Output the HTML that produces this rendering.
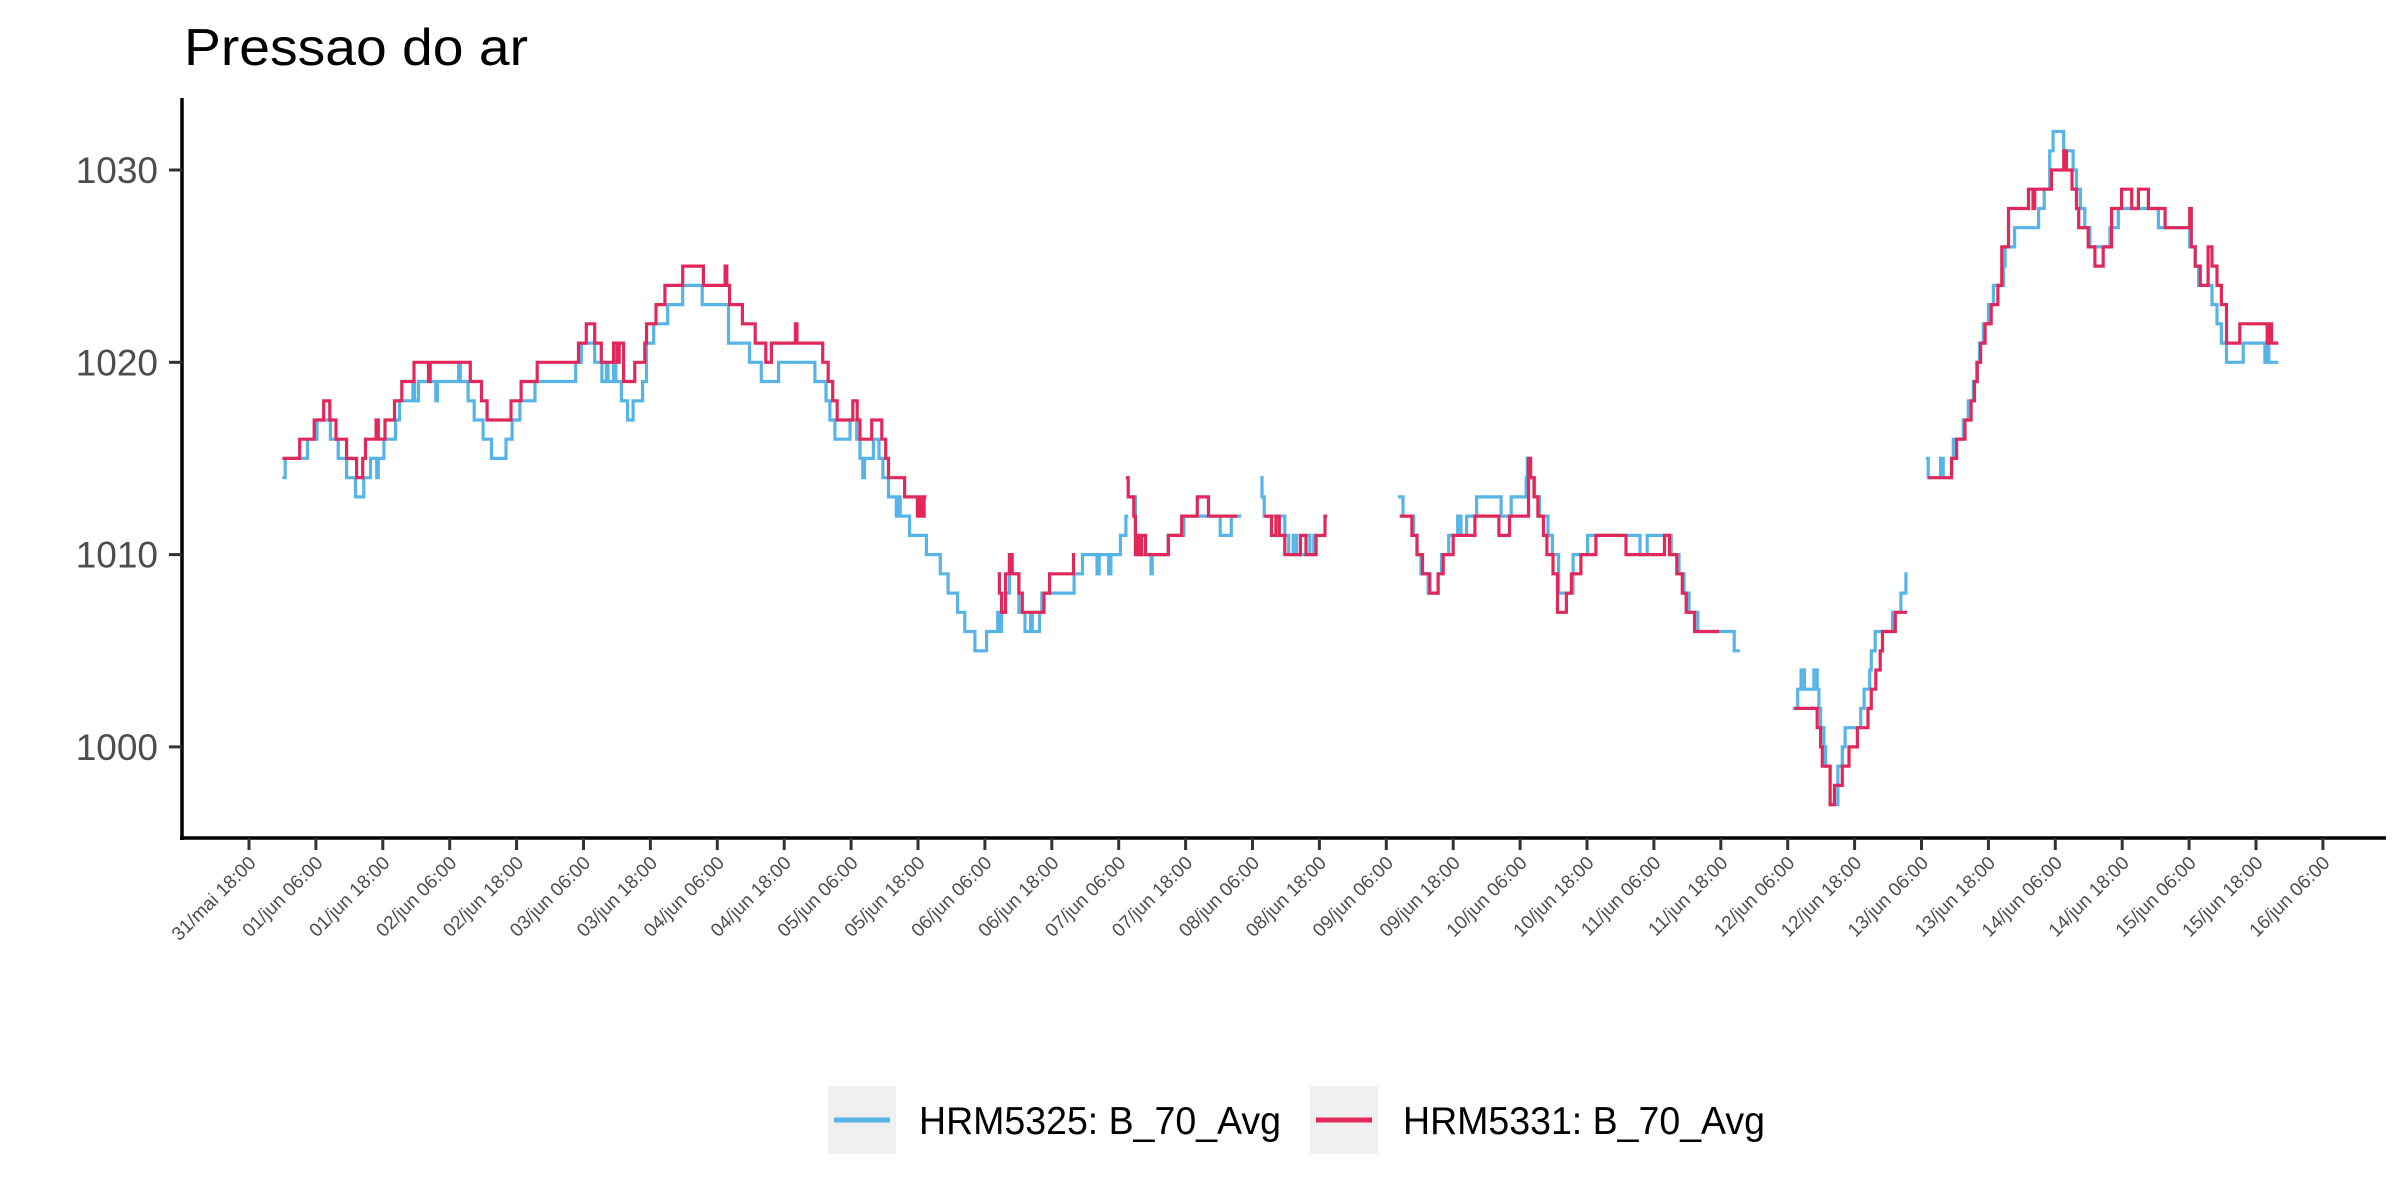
<!DOCTYPE html>
<html><head><meta charset="utf-8">
<style>
html,body{margin:0;padding:0;background:#fff;}
svg{display:block;font-family:"Liberation Sans",Arial,sans-serif;}
</style></head>
<body>
<svg id="chart" width="2400" height="1200" viewBox="0 0 2400 1200" xmlns="http://www.w3.org/2000/svg">
  <rect x="0" y="0" width="2400" height="1200" fill="#fff"/>
  <text x="184" y="65" font-size="52" fill="#000" textLength="344" lengthAdjust="spacingAndGlyphs">Pressao do ar</text>
  <g id="plot"></g>
  <g id="yaxis"></g>
  <g id="xaxis"></g>
  <g id="legend">
    <g>
      <rect x="828" y="1086" width="68" height="68" fill="#f0f0f0"/>
      <line x1="834" y1="1120" x2="890" y2="1120" stroke="#56B4E9" stroke-width="5"/>
      <text x="919" y="1134" font-size="39" fill="#000" textLength="362" lengthAdjust="spacingAndGlyphs">HRM5325: B_70_Avg</text>
    </g>
    <g>
      <rect x="1310" y="1086" width="68" height="68" fill="#f0f0f0"/>
      <line x1="1316" y1="1120" x2="1372" y2="1120" stroke="#E2285A" stroke-width="5"/>
      <text x="1403" y="1134" font-size="39" fill="#000" textLength="362" lengthAdjust="spacingAndGlyphs">HRM5331: B_70_Avg</text>
    </g>
  </g>
</svg>
<script>
// times in hours since 31/mai 18:00 ; values in hPa ; null = gap
var xTickLabels = ["31/mai 18:00","01/jun 06:00","01/jun 18:00","02/jun 06:00","02/jun 18:00","03/jun 06:00","03/jun 18:00","04/jun 06:00","04/jun 18:00","05/jun 06:00","05/jun 18:00","06/jun 06:00","06/jun 18:00","07/jun 06:00","07/jun 18:00","08/jun 06:00","08/jun 18:00","09/jun 06:00","09/jun 18:00","10/jun 06:00","10/jun 18:00","11/jun 06:00","11/jun 18:00","12/jun 06:00","12/jun 18:00","13/jun 06:00","13/jun 18:00","14/jun 06:00","14/jun 18:00","15/jun 06:00","15/jun 18:00","16/jun 06:00"];
var yTicks = [1000, 1010, 1020, 1030];

var blueT = [6.0,6.5,10.5,12.2,14.6,16.0,17.5,19.1,20.6,21.8,22.9,23.2,24.2,26.3,27.0,29.4,29.7,30.4,33.5,33.8,37.6,37.9,39.3,40.4,42.0,43.5,46.1,47.2,48.6,51.3,58.6,59.6,62.0,63.3,64.1,64.4,65.4,65.8,66.8,67.9,68.9,70.6,71.3,72.6,75.1,77.8,81.3,86.0,89.8,91.9,95.0,101.5,103.5,104.2,105.1,107.8,109.0,109.6,110.1,110.4,112.0,113.0,113.7,114.7,116.1,116.4,116.8,118.5,121.5,124.0,125.4,127.1,128.4,130.2,132.3,134.3,134.6,135.0,135.7,136.4,138.1,139.2,140.2,140.5,141.8,142.2,148.0,149.5,152.1,152.5,154.2,154.6,156.3,157.3,157.7,158.3,159.0,159.3,161.8,162.0,164.9,167.7,174.2,176.2,178.0,181.4,181.7,182.1,185.8,186.5,187.3,187.9,189.6,190.3,191.0,191.5,206.1,207.0,208.9,209.5,210.2,211.5,213.3,213.9,215.2,216.8,217.4,218.4,220.2,224.6,226.4,229.1,229.3,229.7,230.6,231.5,233.0,233.8,234.9,237.5,240.1,249.5,250.8,255.1,256.5,257.4,258.3,259.9,266.4,267.4,276.9,277.8,278.4,279.0,280.7,281.3,281.6,281.9,282.5,282.8,283.6,285.0,285.8,286.3,289.1,289.7,290.7,291.0,291.7,294.8,296.3,297.2,297.5,300.8,301.2,303.4,303.9,305.4,305.7,307.5,308.4,309.3,309.9,310.4,311.1,312.0,312.9,314.7,315.0,316.7,321.0,322.0,323.0,323.6,325.5,327.2,327.8,328.5,329.3,330.2,333.8,335.3,342.5,348.1,349.1,349.7,352.1,353.0,353.8,354.7,357.7,361.6,361.9,362.3,364.0];
var blueV = [1014,1015,1016,1017,1016,1015,1014,1013,1014,1015,1014,1015,1016,1017,1018,1019,1018,1019,1018,1019,1020,1019,1018,1017,1016,1015,1016,1017,1018,1019,1020,1021,1020,1019,1020,1019,1020,1019,1018,1017,1018,1019,1021,1022,1023,1024,1023,1021,1020,1019,1020,1019,1018,1017,1016,1017,1016,1015,1014,1015,1016,1015,1014,1013,1012,1013,1012,1011,1010,1009,1008,1007,1006,1005,1006,1007,1006,1007,1008,1009,1007,1006,1007,1006,1007,1008,1009,1010,1009,1010,1009,1010,1011,1012,null,1013,1011,1010,1009,1010,1011,1012,1011,1012,null,1014,1013,1012,1011,1010,1011,1010,1011,1010,1011,null,1013,1012,1011,1010,1009,1008,1009,1010,1011,1012,1011,1012,1013,1012,1013,1014,1015,1014,1013,1012,1011,1010,1008,1010,1011,1010,1011,1010,1009,1008,1007,1006,1005,null,1002,1003,1004,1003,1004,1003,1002,1001,1000,999,997,999,1000,1001,1002,1003,1004,1005,1006,1007,1008,1009,null,1015,1014,1015,1014,1015,1016,1017,1018,1019,1020,1021,1022,1023,1024,1025,1026,1027,1028,1029,1031,1032,1031,1030,1029,1028,1027,1026,1027,1028,1027,1026,1025,1024,1023,1022,1021,1020,1021,1020,1021,1020,null];

var redT = [6.0,9.1,11.7,13.4,14.5,15.6,17.5,19.3,20.4,20.9,22.8,23.2,24.4,26.1,27.4,29.6,32.2,32.5,39.7,41.7,42.7,47.0,48.8,51.7,59.1,60.5,62.0,63.2,65.4,66.0,66.4,67.2,69.2,71.0,71.3,73.0,74.6,77.8,81.5,85.4,85.7,86.2,88.5,90.8,92.7,93.7,98.0,98.3,102.9,103.9,104.7,105.5,108.3,109.1,109.6,111.7,113.5,114.2,114.7,117.6,119.9,120.2,120.7,121.1,121.5,134.3,134.6,135.0,135.7,136.4,136.9,138.1,138.7,142.6,143.6,147.9,148.2,157.3,157.7,158.7,159.0,159.3,159.8,160.1,160.8,164.9,167.3,170.1,172.1,177.3,182.1,183.4,184.2,184.8,185.8,188.6,189.6,191.4,193.0,193.4,206.4,208.6,209.5,210.5,211.8,213.3,214.2,216.0,219.9,224.2,226.1,229.5,229.9,230.5,231.2,232.2,232.8,233.9,234.7,236.3,237.2,238.9,241.6,247.0,253.9,254.8,256.1,257.1,257.8,259.3,263.7,277.2,281.3,281.9,282.2,283.6,284.4,285.8,287.0,288.5,290.4,291.0,291.8,292.6,293.0,295.3,297.4,301.2,305.4,306.3,307.8,308.9,309.5,310.0,310.6,311.4,312.5,313.7,314.4,315.6,319.2,320.0,320.3,323.3,325.5,326.0,327.0,327.8,328.2,329.9,331.1,332.6,334.1,335.9,337.7,338.9,340.7,343.7,348.1,348.4,349.1,350.0,351.4,352.1,353.0,353.8,354.7,357.1,362.0,362.3,362.8,364.0];
var redV = [1015,1016,1017,1018,1017,1016,1015,1014,1015,1016,1017,1016,1017,1018,1019,1020,1019,1020,1019,1018,1017,1018,1019,1020,1021,1022,1021,1020,1021,1020,1021,1019,1020,1021,1022,1023,1024,1025,1024,1025,1024,1023,1022,1021,1020,1021,1022,1021,1020,1019,1018,1017,1018,1017,1016,1017,1016,1015,1014,1013,1012,1013,1012,1013,null,1009,1008,1007,1009,1010,1009,1008,1007,1008,1009,1010,null,1014,1013,1012,1010,1011,1010,1011,1010,1011,1012,1013,1012,null,1012,1011,1012,1011,1010,1011,1010,1011,1012,null,1012,1011,1010,1009,1008,1009,1010,1011,1012,1011,1012,1015,1014,1013,1012,1011,1010,1009,1007,1008,1009,1010,1011,1010,1011,1010,1009,1008,1007,1006,null,1002,1001,1000,999,997,998,999,1000,1001,1002,1003,1004,1005,1006,1007,null,1014,1015,1016,1017,1018,1019,1020,1021,1022,1023,1024,1026,1028,1029,1028,1029,1030,1031,1030,1029,1028,1027,1026,1025,1026,1028,1029,1028,1029,1028,1027,1028,1026,1025,1024,1026,1025,1024,1023,1021,1022,1021,1022,1021,null];

var NS = "http://www.w3.org/2000/svg";
var AX_LEFT = 182, AX_BOTTOM = 838, AX_TOP = 98, AX_RIGHT = 2386;
function xScale(h){ return 249 + h * 66.9 / 12; }
function yScale(v){ return 170 + (1030 - v) * 19.23; }

function stepPath(T, V){
  var d = "", open = false;
  for (var i = 0; i < T.length - 1; i++){
    var v = V[i];
    if (v === null){ open = false; continue; }
    var x0 = xScale(T[i]), x1 = xScale(T[i+1]), y = yScale(v);
    if (!open){ d += "M" + x0.toFixed(1) + "," + y.toFixed(1); open = true; }
    else { d += "V" + y.toFixed(1); }
    d += "H" + x1.toFixed(1);
  }
  return d;
}

var plot = document.getElementById("plot");
var pb = document.createElementNS(NS, "path");
pb.setAttribute("d", stepPath(blueT, blueV));
pb.setAttribute("fill", "none");
pb.setAttribute("stroke", "#56B4E9");
pb.setAttribute("stroke-width", "3.2");


plot.appendChild(pb);
var pr = document.createElementNS(NS, "path");
pr.setAttribute("d", stepPath(redT, redV));
pr.setAttribute("fill", "none");
pr.setAttribute("stroke", "#E2285A");
pr.setAttribute("stroke-width", "3.2");


plot.appendChild(pr);

var ya = document.getElementById("yaxis");
var yl = document.createElementNS(NS, "line");
yl.setAttribute("x1", AX_LEFT); yl.setAttribute("x2", AX_LEFT);
yl.setAttribute("y1", AX_TOP); yl.setAttribute("y2", AX_BOTTOM + 2);
yl.setAttribute("stroke", "#000"); yl.setAttribute("stroke-width", "3.5");


ya.appendChild(yl);
yTicks.forEach(function(v){
  var y = yScale(v);
  var t = document.createElementNS(NS, "line");
  t.setAttribute("x1", AX_LEFT - 13); t.setAttribute("x2", AX_LEFT);
  t.setAttribute("y1", y); t.setAttribute("y2", y);
  t.setAttribute("stroke", "#333"); t.setAttribute("stroke-width", "3");
  
  
  ya.appendChild(t);
  var tx = document.createElementNS(NS, "text");
  tx.setAttribute("x", AX_LEFT - 24); tx.setAttribute("y", y + 13);
  tx.setAttribute("text-anchor", "end"); tx.setAttribute("font-size", "37");
  tx.setAttribute("fill", "#4d4d4d");
  tx.textContent = v;
  
  
  ya.appendChild(tx);
});

var xa = document.getElementById("xaxis");
var xl = document.createElementNS(NS, "line");
xl.setAttribute("x1", AX_LEFT - 2); xl.setAttribute("x2", AX_RIGHT);
xl.setAttribute("y1", AX_BOTTOM); xl.setAttribute("y2", AX_BOTTOM);
xl.setAttribute("stroke", "#000"); xl.setAttribute("stroke-width", "3.5");


xa.appendChild(xl);
xTickLabels.forEach(function(lab, i){
  var x = xScale(i * 12);
  var t = document.createElementNS(NS, "line");
  t.setAttribute("x1", x); t.setAttribute("x2", x);
  t.setAttribute("y1", AX_BOTTOM); t.setAttribute("y2", AX_BOTTOM + 12);
  t.setAttribute("stroke", "#333"); t.setAttribute("stroke-width", "3");
  
  
  xa.appendChild(t);
  var tx = document.createElementNS(NS, "text");
  tx.setAttribute("transform", "translate(" + (x + 8) + "," + (AX_BOTTOM + 26) + ") rotate(-45)");
  tx.setAttribute("text-anchor", "end"); tx.setAttribute("font-size", "19");
  tx.setAttribute("fill", "#4d4d4d");
  tx.textContent = lab;
  
  
  xa.appendChild(tx);
});
</script>
</body></html>
